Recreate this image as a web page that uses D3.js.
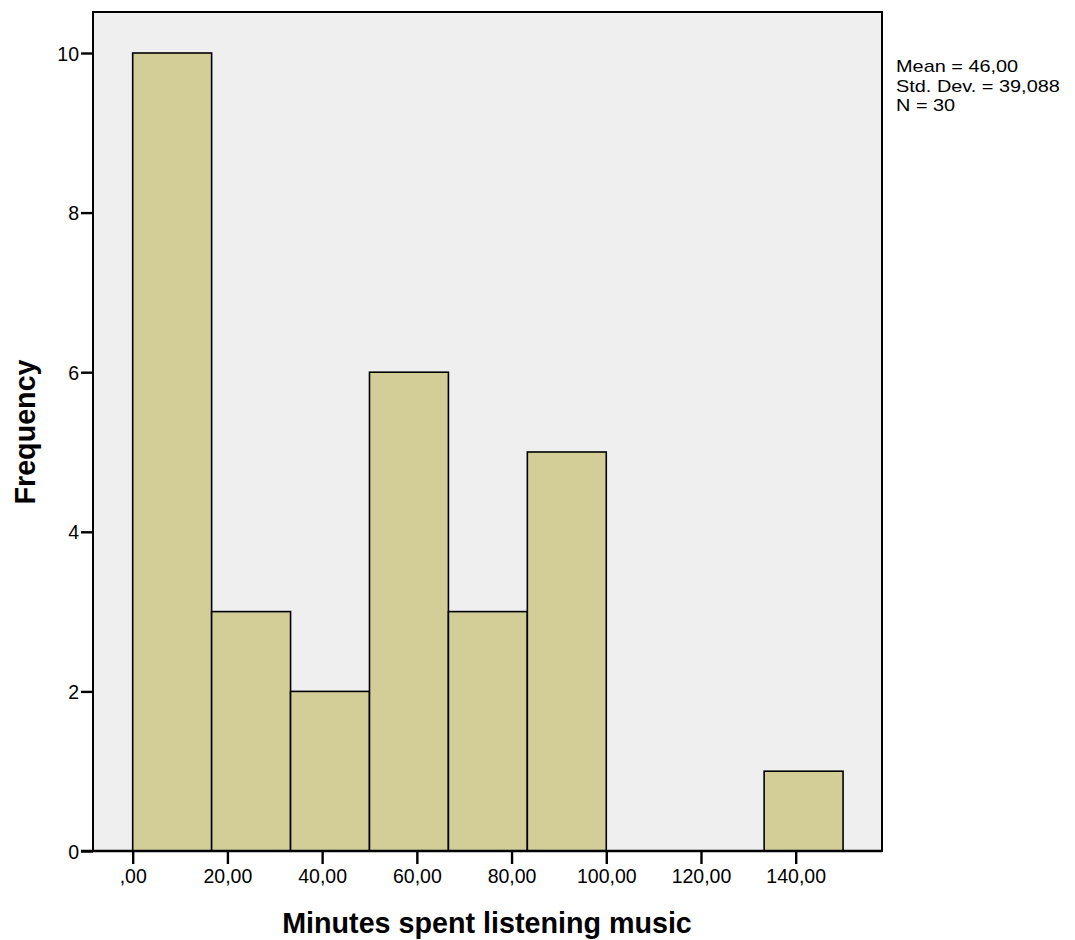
<!DOCTYPE html>
<html>
<head>
<meta charset="utf-8">
<script src="https://cdn.jsdelivr.net/npm/d3@7"></script>
<style>
  body { margin: 0; background: #fff; }
  text { font-family: "Liberation Sans", Arial, sans-serif; fill: #000; }
</style>
</head>
<body>
<div id="chart"></div>
<script>
// histogram bins (minutes), frequency per bin
const binStarts = [0, 16.667, 33.333, 50, 66.667, 83.333, 100, 116.667, 133.333];
const binWidth = 16.667;
const counts = [10, 3, 2, 6, 3, 5, 0, 0, 1];
const xTicks = [0, 20, 40, 60, 80, 100, 120, 140];
const yTicks = [0, 2, 4, 6, 8, 10];
const stats = ["Mean = 46,00", "Std. Dev. = 39,088", "N = 30"];

const width = 1075, height = 940;
const frame = { left: 93, right: 882, top: 12, bottom: 851 };

const svg = d3.select("#chart")
  .append("svg")
  .attr("width", width)
  .attr("height", height);

// x: 0 at 132.7, 140 at 795.7
const x = d3.scaleLinear().domain([0, 140]).range([132.7, 795.7]);
const y = d3.scaleLinear().domain([0, 10]).range([851, 53]);

const fmt = d => d === 0 ? ",00" : d3.format(".2f")(d).replace(".", ",");

// plot background
svg.append("rect")
  .attr("x", frame.left)
  .attr("y", frame.top)
  .attr("width", frame.right - frame.left)
  .attr("height", frame.bottom - frame.top)
  .attr("fill", "#efefef");

// bars
svg.append("g")
  .selectAll("rect")
  .data(counts.map((c, i) => ({ x0: binStarts[i], n: c })).filter(d => d.n > 0))
  .enter()
  .append("rect")
  .attr("x", d => x(d.x0))
  .attr("y", d => y(d.n))
  .attr("width", d => x(d.x0 + binWidth) - x(d.x0))
  .attr("height", d => y(0) - y(d.n))
  .attr("fill", "#d3ce98")
  .attr("stroke", "#000")
  .attr("stroke-width", 1.6);

// frame
svg.append("rect")
  .attr("x", frame.left)
  .attr("y", frame.top)
  .attr("width", frame.right - frame.left)
  .attr("height", frame.bottom - frame.top)
  .attr("fill", "none")
  .attr("stroke", "#000")
  .attr("stroke-width", 2);

// y axis
const yAxis = svg.append("g")
  .attr("transform", `translate(${frame.left},0)`)
  .call(d3.axisLeft(y).tickValues(yTicks).tickSize(12).tickPadding(2).tickFormat(d3.format("d")));
yAxis.select(".domain").remove();
yAxis.selectAll(".tick line").attr("stroke", "#000").attr("stroke-width", 2.4);
yAxis.selectAll(".tick text").style("font-size", "19.5px").attr("dy", "0.36em");

// x axis
const xAxis = svg.append("g")
  .attr("transform", `translate(0,${frame.bottom})`)
  .call(d3.axisBottom(x).tickValues(xTicks).tickSize(13).tickPadding(5).tickFormat(fmt));
xAxis.select(".domain").remove();
xAxis.selectAll(".tick line").attr("stroke", "#000").attr("stroke-width", 2.4);
xAxis.selectAll(".tick text").style("font-size", "19.5px");

// base line extends left under the y tick
svg.append("line")
  .attr("x1", 81).attr("x2", frame.right)
  .attr("y1", frame.bottom).attr("y2", frame.bottom)
  .attr("stroke", "#000").attr("stroke-width", 2.4);

// axis titles
svg.append("text")
  .attr("x", 487)
  .attr("y", 933)
  .attr("text-anchor", "middle")
  .style("font-size", "28.7px")
  .style("font-weight", "bold")
  .text("Minutes spent listening music");

svg.append("text")
  .attr("transform", "translate(35,432) rotate(-90)")
  .attr("text-anchor", "middle")
  .style("font-size", "28.7px")
  .style("font-weight", "bold")
  .text("Frequency");

// stats box - lines are tight in the original, so a smaller font stretched sideways
svg.append("g")
  .selectAll("text")
  .data(stats)
  .enter()
  .append("text")
  .attr("transform", (d, i) => `translate(896,${72 + i * 19.5}) scale(1.17,1)`)
  .style("font-size", "17px")
  .text(d => d);
</script>
</body>
</html>
